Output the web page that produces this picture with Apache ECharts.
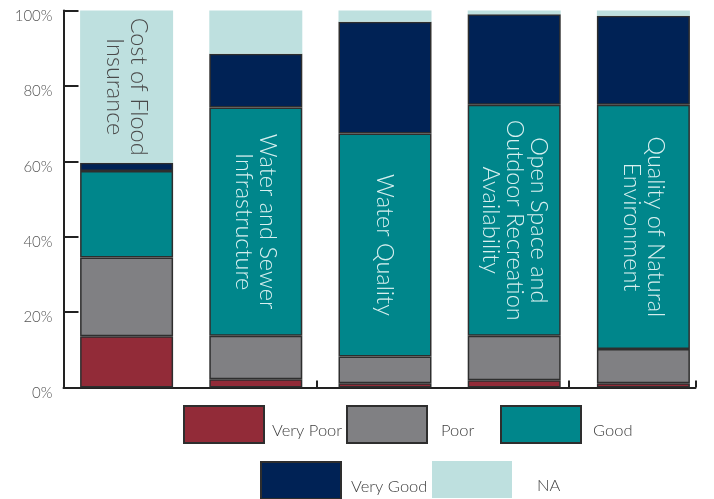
<!DOCTYPE html>
<html><head><meta charset="utf-8">
<script src="https://cdn.jsdelivr.net/npm/echarts@6/dist/echarts.min.js"></script>
<style>html,body{margin:0;padding:0;background:#fff;}#c{width:714px;height:499px;}</style>
</head><body><div id="c"></div>
<script>
const categories = ['Cost of Flood\nInsurance', 'Water and Sewer\nInfrastructure', 'Water Quality', 'Open Space and\nOutdoor Recreation\nAvailability', 'Quality of Natural\nEnvironment'];
const veryPoor = [13.6, 2.2, 1.1, 1.9, 1.1];
const poor = [20.9, 11.5, 7.1, 11.8, 9.1];
const good = [22.9, 60.6, 59.2, 61.3, 64.8];
const veryGood = [2.2, 14.2, 29.6, 24.0, 23.6];
const na = [40.4, 11.5, 3.0, 1.0, 1.4];
const yTicks = ['0%', '20%', '40%', '60%', '80%', '100%'];
const labelSeries = ['NA', 'Good', 'Good', 'Good', 'Good'];

const FONT = 'Lato';
const colors = {'Very Poor':'#922B38','Poor':'#808083','Good':'#00868B','Very Good':'#002255','NA':'#BEE0DF'};

function mkSeries(name, values) {
  const isNA = name === 'NA';
  return {
    name, type:'bar', stack:'all', xAxisIndex:0, yAxisIndex:0, barWidth:93,
    itemStyle:{color:colors[name], borderColor: isNA ? colors[name] : '#2e2e2e', borderWidth: isNA ? 0 : 1.5},
    emphasis:{disabled:true},
    data: values.map((v,i) => {
      const d = {value:v};
      if (labelSeries[i] === name) {
        d.label = {show:true, position:'inside', rotate:-90, formatter: categories[i],
          fontFamily:FONT, fontWeight:300, fontSize:23.5, lineHeight:24, align:'center',
          color: isNA ? '#4a4a4a' : '#D8F0F0'};
      }
      return d;
    })
  };
}

const names = ['Very Poor','Poor','Good','Very Good','NA'];
const vals = [veryPoor, poor, good, veryGood, na];
const series = names.map((n,i)=>mkSeries(n, vals[i]));

const legendPos = [
  {name:'Very Poor', left:183, top:405, pad:3},
  {name:'Poor', left:346, top:405, pad:9},
  {name:'Good', left:500, top:405, pad:7},
  {name:'Very Good', left:260, top:461, pad:5},
  {name:'NA', left:432, top:461, pad:20}
];

const option = {
  animation:false,
  grid:[
    {left:62, right:6, top:10.5, bottom:111.5},
    {left:63.5, right:18.5, top:10.5, bottom:111.5}
  ],
  xAxis:[
    {type:'category', gridIndex:0, data:categories, show:false},
    {type:'category', gridIndex:1, data:categories,
      axisLine:{show:true, lineStyle:{color:'#222', width:2}},
      axisTick:{show:true, inside:true, length:7, lineStyle:{color:'#222', width:2}},
      axisLabel:{show:false}}
  ],
  yAxis:[
    {type:'value', gridIndex:0, min:0, max:100, interval:20, show:false},
    {type:'value', gridIndex:1, min:0, max:100, interval:20,
      axisLine:{show:true, lineStyle:{color:'#222', width:2}},
      axisTick:{show:true, inside:true, length:15, lineStyle:{color:'#222', width:2}},
      splitLine:{show:false},
      axisLabel:{margin:11, formatter:(v)=>'{a|' + yTicks[v/20] + '}',
        rich:{a:{fontFamily:FONT, fontWeight:300, fontSize:15, color:'#555', padding:[11,0,0,0]}}}}
  ],
  legend: legendPos.map(l=>({
    data:[{name:l.name, icon:'rect'}], left:l.left, top:l.top, itemWidth:80, itemHeight:37, padding:0,
    selectedMode:false,
    formatter:(n)=>'{a|' + n + '}',
    textStyle:{fontFamily:FONT, fontWeight:300, fontSize:16.5, color:'#404040',
      rich:{a:{fontFamily:FONT, fontWeight:300, fontSize:16.5, color:'#404040', padding:[13,0,0,l.pad]}}}
  })),
  series
};
const chart = echarts.init(document.getElementById('c'), null, {renderer:'canvas'});
chart.setOption(option);
</script></body></html>
